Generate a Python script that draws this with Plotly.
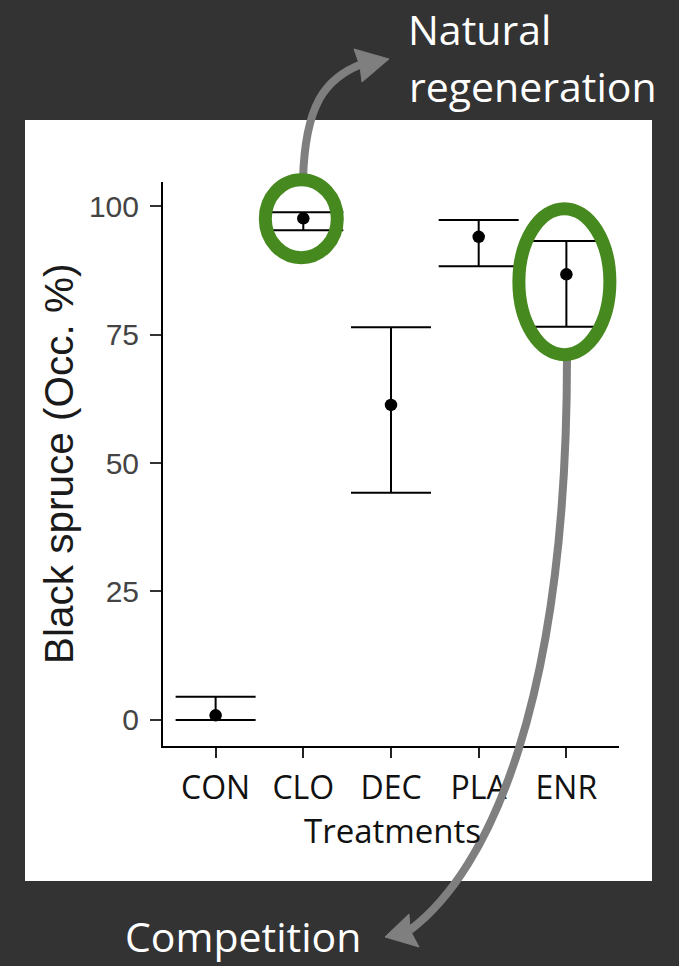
import plotly.graph_objects as go

# Black spruce occurrence by silvicultural treatment (mean with interval)
treatments = ["CON", "CLO", "DEC", "PLA", "ENR"]
occ_mean = [0.9, 97.6, 61.3, 94.0, 86.7]
occ_upper = [4.5, 98.8, 76.4, 97.3, 93.2]
occ_lower = [0.0, 95.3, 44.2, 88.3, 76.5]
y_ticks = [0, 25, 50, 75, 100]

# Axis ranges
X_RANGE = [-0.6, 4.6]
Y_RANGE = [-5.06, 104.67]

# Figure geometry (pixels)
FIG_W, FIG_H = 679, 966
M_L, M_R, M_T, M_B = 163, 60, 182, 220
PW = FIG_W - M_L - M_R
PH = FIG_H - M_T - M_B

DARK = "#333333"
GREEN = "#46891f"
GREY = "#7f7f7f"


def px(x, y):
    """Convert a pixel position on the page to paper coordinates."""
    return (x - M_L) / PW, (FIG_H - M_B - y) / PH


def pt(x, y):
    a, b = px(x, y)
    return f"{a:.5f},{b:.5f}"


def data_to_paper(i, v):
    """Map a category index and a value onto paper coordinates (unclipped)."""
    return ((i - X_RANGE[0]) / (X_RANGE[1] - X_RANGE[0]),
            (v - Y_RANGE[0]) / (Y_RANGE[1] - Y_RANGE[0]))


fig = go.Figure()
fig.add_trace(go.Scatter(
    x=treatments,
    y=occ_mean,
    mode="markers",
    marker=dict(color="black", size=12.5),
    error_y=dict(
        type="data",
        symmetric=False,
        array=[u - m for u, m in zip(occ_upper, occ_mean)],
        arrayminus=[m - l for m, l in zip(occ_mean, occ_lower)],
        color="black",
        thickness=2,
        width=40,
    ),
    cliponaxis=False,
    hoverinfo="skip",
))

shapes = []
# white panel behind the chart
x0, y0 = px(25, 881)
x1, y1 = px(652, 120)
shapes.append(dict(type="rect", xref="paper", yref="paper", x0=x0, y0=y0, x1=x1, y1=y1,
                   fillcolor="white", line=dict(width=0), layer="below"))

# curved callout arrow up to "Natural regeneration"
shapes.append(dict(type="path", xref="paper", yref="paper",
                   path=f"M{pt(303, 180)} C{pt(305, 105)} {pt(325, 78)} {pt(362, 64)}",
                   line=dict(color=GREY, width=8)))
shapes.append(dict(type="path", xref="paper", yref="paper",
                   path=f"M{pt(354, 49)} L{pt(389, 59)} L{pt(362, 82)} L{pt(360, 66)} Z",
                   fillcolor=GREY, line=dict(color=GREY, width=1)))

# curved callout arrow down to "Competition"
shapes.append(dict(type="path", xref="paper", yref="paper",
                   path=f"M{pt(567, 358)} C{pt(567, 700)} {pt(490, 870)} {pt(410, 930)}",
                   line=dict(color=GREY, width=8)))
shapes.append(dict(type="path", xref="paper", yref="paper",
                   path=f"M{pt(409, 914)} L{pt(385, 937)} L{pt(419, 947)} L{pt(410, 930)} Z",
                   fillcolor=GREY, line=dict(color=GREY, width=1)))

# green rings around the highlighted treatments
for cat, rx, ry, dx, dy in [("CLO", 36, 39, -2, 2.5), ("ENR", 45.5, 73, -2, 2.2)]:
    i = treatments.index(cat)
    ax, ay = data_to_paper(i, (occ_upper[i] + occ_lower[i]) / 2)
    shapes.append(dict(type="circle", xref="paper", yref="paper",
                       xsizemode="pixel", ysizemode="pixel",
                       xanchor=ax, yanchor=ay,
                       x0=dx - rx, x1=dx + rx, y0=dy - ry, y1=dy + ry,
                       line=dict(color=GREEN, width=13)))

annotations = []


def add_text(text, x, y, size, color, family, xanchor="center", angle=0):
    ax, ay = px(x, y)
    annotations.append(dict(text=text, x=ax, y=ay, xref="paper", yref="paper",
                            xanchor=xanchor, yanchor="middle", showarrow=False,
                            textangle=angle, font=dict(size=size, color=color, family=family)))


add_text("Black spruce (Occ. %)", 59, 464, 40.5, "#1a1a1a", "Liberation Sans, Arial", angle=-90)
add_text("Treatments", 392.5, 830, 33, "#111111", "Open Sans")
add_text("Natural", 406, 29, 41, "white", "Open Sans", xanchor="left")
add_text("regeneration", 407, 86, 41, "white", "Open Sans", xanchor="left")
add_text("Competition", 123, 936, 41, "white", "Open Sans", xanchor="left")

fig.update_layout(
    width=FIG_W,
    height=FIG_H,
    margin=dict(l=M_L, r=M_R, t=M_T, b=M_B, pad=0),
    paper_bgcolor=DARK,
    plot_bgcolor="white",
    showlegend=False,
    shapes=shapes,
    annotations=annotations,
    xaxis=dict(
        type="category",
        categoryorder="array",
        categoryarray=treatments,
        range=X_RANGE,
        showline=True, linecolor="black", linewidth=2,
        ticks="outside", ticklen=10, tickwidth=1.5, tickcolor="#222222",
        tickfont=dict(family="Open Sans", size=32, color="#111111"),
        ticklabelstandoff=3,
        showgrid=False, zeroline=False,
    ),
    yaxis=dict(
        range=Y_RANGE,
        tickvals=y_ticks,
        showline=True, linecolor="black", linewidth=2,
        ticks="outside", ticklen=11, tickwidth=1.5, tickcolor="#333333",
        tickfont=dict(family="Liberation Sans, Arial", size=30, color="#444444"),
        ticklabelstandoff=5,
        showgrid=False, zeroline=False,
    ),
)

fig.write_html("out.html")
